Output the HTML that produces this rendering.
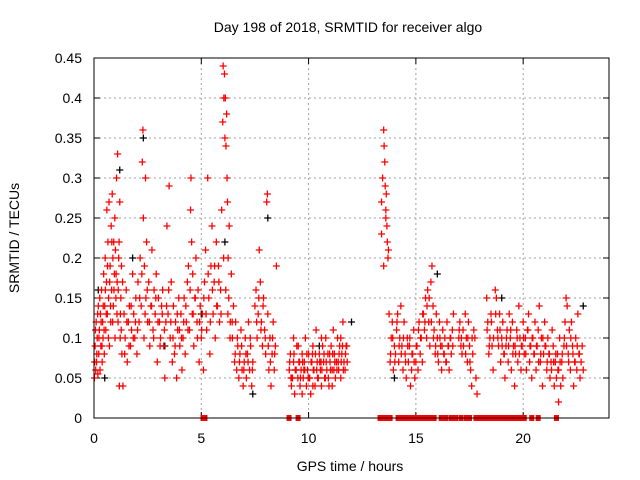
<!DOCTYPE html>
<html><head><meta charset="utf-8"><style>
body{margin:0;background:#fff}
svg{display:block;font-family:"Liberation Sans",sans-serif}
</style></head><body>
<svg id="c" width="640" height="480" viewBox="0 0 640 480">
<rect width="640" height="480" fill="#fff"/>
<g id="grid"></g>
<g id="ticks"></g>
<g id="black"></g>
<g id="red"></g>
<g id="zeros"></g>
<rect x="94" y="58" width="515" height="360" fill="none" stroke="#000" stroke-width="1"/>
<text x="348" y="32" text-anchor="middle" font-size="14">Day 198 of 2018, SRMTID for receiver algo</text>
<text x="350" y="471" text-anchor="middle" font-size="14">GPS time / hours</text>
<text transform="translate(19,238) rotate(-90)" text-anchor="middle" font-size="14">SRMTID / TECUs</text>
</svg>
<script>
const xTicks=[0,5,10,15,20];
const yTicks=[0,0.05,0.1,0.15,0.2,0.25,0.3,0.35,0.4,0.45];
const yTickLabels=["0","0.05","0.1","0.15","0.2","0.25","0.3","0.35","0.4","0.45"];
const redT=[0.02,0.05,0.08,0.1,0.12,0.15,0.18,0.2,0.22,0.25,0.28,0.3,0.32,0.35,0.38,0.4,0.42,0.45,0.48,0.5,0.52,0.55,0.58,0.6,0.62,0.65,0.68,0.7,0.72,0.75,0.78,0.8,0.82,0.85,0.88,0.9,0.92,0.95,0.98,1.0,1.02,1.05,1.08,1.1,1.12,1.15,1.18,1.2,1.22,1.25,1.28,1.3,1.35,1.4,1.45,1.5,1.55,1.6,1.65,1.7,1.75,1.8,1.85,1.9,1.95,
2.0,2.05,2.1,2.15,2.2,2.25,2.28,2.3,2.33,2.35,2.4,2.42,2.45,2.5,2.55,2.6,2.65,2.7,2.75,2.8,2.85,2.9,2.95,3.0,3.05,3.1,3.15,3.2,3.25,3.3,3.35,3.4,3.45,3.5,3.55,3.6,3.65,3.7,3.75,3.8,3.85,3.9,3.95,
4.0,4.05,4.1,4.15,4.2,4.25,4.3,4.35,4.4,4.45,4.5,4.52,4.55,4.58,4.6,4.65,4.7,4.75,4.8,4.85,4.9,4.95,5.0,
5.05,5.1,5.15,5.2,5.25,5.3,5.35,5.4,5.45,5.5,5.55,5.6,5.65,5.7,5.75,5.8,5.85,5.9,5.95,6.0,6.02,6.05,6.08,6.1,6.12,6.15,6.18,6.2,6.22,6.25,6.28,6.3,6.35,6.4,6.45,6.5,
6.55,6.6,6.65,6.7,6.75,6.8,6.85,6.9,6.95,7.0,7.05,7.1,7.15,7.2,7.25,7.3,7.35,7.4,7.5,7.55,7.6,7.65,7.7,7.75,7.8,7.85,7.9,7.95,8.0,8.05,8.08,8.1,8.15,8.2,8.25,8.3,8.35,8.4,8.5,8.45,
9.1,9.15,9.2,9.25,9.3,9.35,9.4,9.45,9.5,9.55,9.6,9.65,9.7,9.75,9.8,9.85,9.9,9.95,10.0,10.05,10.1,10.15,10.2,10.25,10.3,10.35,10.4,10.45,10.5,10.55,10.6,10.65,10.7,10.75,10.8,10.85,10.9,10.95,11.0,11.05,11.1,11.15,11.2,11.25,11.3,11.35,11.4,11.45,11.5,11.55,11.6,11.65,11.7,11.75,11.8,9.3,9.7,10.2,10.6,11.1,11.5,
13.4,13.45,13.5,13.52,13.55,13.57,13.6,13.62,13.65,13.67,13.7,13.72,13.75,13.4,13.5,13.6,
13.8,13.85,13.9,13.95,14.0,14.05,14.1,14.15,14.2,14.25,14.3,14.35,14.4,14.45,14.5,14.55,14.6,14.65,14.7,14.75,14.8,14.85,14.9,14.95,15.0,15.05,15.1,15.15,15.2,15.25,15.3,15.35,15.4,15.45,15.5,15.55,15.6,15.65,15.7,15.75,15.8,15.85,15.9,15.95,16.0,16.05,16.1,16.15,16.2,16.25,16.3,16.35,16.4,16.45,16.5,16.55,16.6,16.65,16.7,16.75,
17.0,17.05,17.1,17.15,17.2,17.3,17.35,17.4,17.45,17.5,17.55,17.6,17.65,17.7,17.75,17.8,17.85,
18.3,18.35,18.4,18.45,18.5,18.55,18.6,18.7,18.75,18.8,18.85,18.9,18.95,19.0,19.05,19.1,19.15,19.2,19.25,19.3,19.35,19.4,19.45,19.5,19.55,19.6,19.65,19.7,19.75,19.8,19.85,19.9,19.95,20.0,
20.05,20.1,20.15,20.2,20.25,20.3,20.35,20.4,20.45,20.5,20.55,20.6,20.65,20.7,20.75,20.8,20.85,20.9,20.95,21.0,21.05,21.1,21.15,21.2,21.25,21.3,21.35,21.4,21.45,21.5,21.55,21.6,21.65,21.7,21.75,21.8,21.85,21.9,21.95,22.0,22.05,22.1,22.15,22.2,22.25,22.3,22.35,22.4,22.45,22.5,22.55,22.6,22.65,22.7,22.75,22.8,21.65];
const redV=[.05,.09,.06,.12,.07,.1,.055,.14,.08,.11,.06,.13,.09,.16,.07,.12,.1,.18,.08,.14,.2,.11,.17,.26,.13,.22,.15,.27,.09,.19,.12,.24,.16,.28,.2,.14,.22,.18,.1,.21,.15,.3,.17,.33,.12,.2,.04,.27,.1,.15,.19,.08,.04,.13,.1,.16,.07,.12,.14,.09,.11,.18,.13,.1,.15,
.08,.17,.12,.2,.14,.32,.36,.25,.1,.19,.3,.15,.22,.12,.17,.09,.14,.21,.11,.16,.13,.18,.07,.15,.12,.1,.14,.16,.09,.05,.12,.24,.13,.29,.1,.17,.07,.14,.08,.12,.05,.11,.15,
.09,.13,.06,.1,.15,.08,.12,.17,.19,.11,.26,.3,.22,.13,.18,.09,.15,.2,.12,.16,.07,.14,.1,
.13,.06,.17,.21,.11,.3,.15,.08,.19,.24,.13,.17,.1,.22,.14,.19,.12,.16,.26,.37,.44,.4,.43,.35,.4,.34,.38,.3,.27,.2,.15,.24,.12,.18,.1,.14,
.07,.12,.06,.09,.05,.08,.11,.06,.04,.07,.1,.05,.08,.12,.06,.09,.04,.07,.14,.16,.1,.13,.21,.17,.12,.09,.15,.11,.08,.27,.28,.13,.06,.1,.04,.08,.12,.06,.19,.09,
.06,.08,.04,.05,.07,.03,.06,.09,.05,.07,.04,.06,.08,.05,.07,.1,.04,.06,.08,.05,.03,.07,.09,.06,.04,.11,.07,.05,.08,.06,.04,.09,.07,.05,.1,.06,.08,.04,.07,.09,.06,.11,.08,.05,.07,.1,.06,.09,.05,.08,.12,.07,.06,.09,.07,.1,.03,.04,.1,.04,.1,
.27,.3,.36,.34,.32,.29,.26,.28,.24,.22,.2,.21,.13,.23,.19,.25,
.07,.1,.12,.06,.09,.08,.11,.13,.07,.1,.14,.09,.06,.12,.08,.05,.1,.07,.09,.04,.06,.08,.11,.05,.07,.09,.06,.12,.08,.1,.07,.13,.11,.15,.1,.16,.12,.09,.17,.19,.14,.11,.08,.13,.1,.07,.12,.09,.06,.11,.08,.1,.07,.12,.09,.06,.1,.08,.11,.13,
.1,.12,.09,.08,.11,.13,.1,.07,.12,.09,.06,.04,.08,.11,.1,.05,.03,
.15,.12,.08,.1,.13,.09,.06,.16,.15,.11,.09,.13,.07,.1,.12,.08,.05,.09,.11,.07,.13,.1,.06,.12,.09,.04,.08,.11,.07,.14,.1,.06,.09,.12,
.08,.1,.06,.11,.13,.07,.09,.05,.1,.08,.12,.06,.09,.11,.14,.07,.1,.04,.08,.12,.09,.06,.1,.08,.05,.07,.11,.09,.04,.07,.05,.08,.06,.1,.04,.07,.05,.09,.12,.15,.14,.08,.11,.06,.12,.09,.04,.07,.1,.06,.13,.08,.05,.07,.09,.06,.02];
const red2T=[0.03,0.07,0.13,0.17,0.23,0.27,0.33,0.37,0.43,0.47,0.53,0.57,0.63,0.67,0.73,0.77,0.83,0.87,0.93,0.97,1.03,1.07,1.13,1.17,1.23,1.27,1.33,1.43,1.53,1.63,1.73,1.83,1.93,2.03,2.13,2.23,2.38,2.48,2.58,2.68,2.78,2.88,2.98,3.08,3.18,3.28,3.38,3.48,3.58,3.68,3.78,3.88,3.98,4.08,4.18,4.28,4.38,4.48,4.62,4.72,4.82,4.92,5.02,5.12,5.22,5.32,5.42,5.52,5.62,5.72,5.82,5.92,6.04,6.14,6.24,6.34,6.44,6.58,6.68,6.78,6.88,6.98,7.08,7.18,7.28,7.38,7.58,7.68,7.78,7.88,7.98,8.12,8.22,8.32,8.42,
9.12,9.22,9.32,9.42,9.52,9.62,9.72,9.82,9.92,10.02,10.12,10.22,10.32,10.42,10.52,10.62,10.72,10.82,10.92,11.02,11.12,11.22,11.32,11.42,11.52,11.62,11.72,9.18,9.38,9.58,9.78,9.98,10.18,10.38,10.58,10.78,10.98,11.18,11.38,11.58,11.78,
13.82,13.92,14.02,14.12,14.22,14.32,14.42,14.52,14.62,14.72,14.82,14.92,15.02,15.12,15.22,15.32,15.42,15.52,15.62,15.72,15.82,15.92,16.02,16.12,16.22,16.32,16.42,16.52,16.62,16.72,17.02,17.12,17.22,17.32,17.42,17.52,17.62,
18.32,18.42,18.52,18.62,18.72,18.82,18.92,19.02,19.12,19.22,19.32,19.42,19.52,19.62,19.72,19.82,19.92,20.02,20.12,20.22,20.32,20.42,20.52,20.62,20.72,20.82,20.92,21.02,21.12,21.22,21.32,21.42,21.52,21.62,21.72,21.82,21.92,22.02,22.12,22.22,22.32,22.42,22.52,22.62,22.72];
const red2V=[.07,.11,.08,.13,.1,.15,.12,.09,.14,.11,.16,.13,.19,.1,.17,.14,.22,.12,.16,.25,.18,.13,.16,.22,.13,.11,.17,.08,.12,.09,.14,.1,.12,.11,.15,.18,.13,.16,.12,.14,.1,.15,.12,.09,.13,.11,.14,.16,.12,.1,.09,.13,.11,.1,.12,.14,.11,.16,.13,.15,.1,.12,.11,.15,.13,.18,.12,.16,.19,.14,.17,.13,.2,.16,.13,.1,.12,.08,.1,.07,.09,.06,.08,.07,.1,.06,.12,.15,.11,.14,.1,.09,.07,.1,.08,
.07,.05,.08,.06,.09,.05,.07,.06,.08,.05,.07,.06,.08,.05,.07,.06,.08,.07,.05,.06,.08,.07,.06,.08,.07,.06,.08,.05,.06,.07,.06,.05,.08,.06,.07,.05,.08,.06,.07,.09,
.09,.08,.1,.07,.12,.09,.08,.1,.07,.09,.1,.08,.07,.09,.11,.1,.13,.12,.14,.15,.12,.1,.09,.08,.1,.09,.08,.07,.09,.1,.09,.11,.1,.09,.08,.1,.07,
.1,.11,.09,.12,.1,.13,.1,.11,.09,.08,.1,.09,.11,.08,.09,.1,.08,.09,.1,.08,.11,.09,.1,.08,.09,.07,.08,.1,.09,.07,.08,.06,.07,.08,.06,.07,.08,.1,.09,.07,.1,.08,.07,.09,.08];
const blackT=[0.5,1.2,2.3,1.8,6.1,7.4,8.1,5.0,19.0,22.8,14.0,16.0,0.2,3.3,12.0,10.5];
const blackV=[.05,.31,.35,.2,.22,.03,.25,.13,.15,.14,.05,.18,.16,.09,.12,.09];
const zeroT=[5.08,5.17,9.09,9.51,13.33,13.45,13.6,13.8,14.17,14.3,14.45,14.6,14.75,14.9,15.05,15.2,15.4,15.55,15.7,15.85,16.18,16.4,16.65,16.85,17.1,17.35,17.5,17.8,17.95,18.1,18.25,18.4,18.55,18.7,18.85,19.0,19.15,19.3,19.45,19.6,19.75,19.9,20.05,20.4,20.7,21.55];

const X0=94,X1=609,Y0=418,Y1=58;
const xs=t=>X0+(t/24)*(X1-X0);
const ys=v=>Y0-(v/0.45)*(Y0-Y1);
const NS="http://www.w3.org/2000/svg";
function mk(tag,attrs,parent){const e=document.createElementNS(NS,tag);for(const k in attrs)e.setAttribute(k,attrs[k]);parent.appendChild(e);return e;}
const grid=document.getElementById('grid'),ticks=document.getElementById('ticks');
xTicks.forEach(t=>{const x=xs(t);
 if(t>0){const g=mk('line',{x1:x,x2:x,y1:Y1,y2:Y0,stroke:'#a0a0a0','stroke-dasharray':'2,3'},grid);
 
 }
 mk('line',{x1:x,x2:x,y1:Y0,y2:Y0-6,stroke:'#000'},ticks);
 mk('line',{x1:x,x2:x,y1:Y1,y2:Y1+6,stroke:'#000'},ticks);
 const l=mk('text',{x:x,y:443,'text-anchor':'middle','font-size':'14'},ticks);l.textContent=String(t);
 
 
});
yTicks.forEach((v,i)=>{const y=ys(v);
 if(v>0){const g=mk('line',{x1:X0,x2:X1,y1:y,y2:y,stroke:'#a0a0a0','stroke-dasharray':'2,3'},grid);
 
 }
 mk('line',{x1:X0,x2:X0+6,y1:y,y2:y,stroke:'#000'},ticks);
 mk('line',{x1:X1,x2:X1-6,y1:y,y2:y,stroke:'#000'},ticks);
 const l=mk('text',{x:82,y:y+5,'text-anchor':'end','font-size':'14'},ticks);l.textContent=yTickLabels[i];
 
 
});
function plus(g,t,v,c){const x=xs(t),y=ys(v);
 const p=mk('path',{d:`M${x-3.5} ${y}H${x+3.5}M${x} ${y-3.5}V${y+3.5}`,stroke:c,'stroke-width':'1.3',fill:'none'},g);
 
 }
const bg=document.getElementById('black'),rg=document.getElementById('red'),zg=document.getElementById('zeros');
blackT.forEach((t,i)=>plus(bg,t,blackV[i],'#000'));
redT.forEach((t,i)=>plus(rg,t,redV[i],'#f00'));
red2T.forEach((t,i)=>plus(rg,t,red2V[i],'#f00'));
zeroT.forEach(t=>{const r=mk('rect',{x:xs(t)-2.5,y:Y0-3,width:5,height:6,fill:'#f00'},zg);
 
 });
</script>
</body></html>
